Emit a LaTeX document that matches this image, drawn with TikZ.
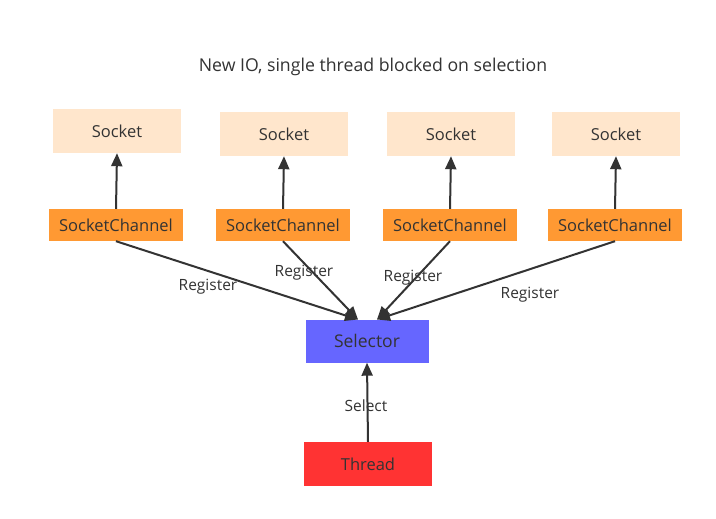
\documentclass[tikz,border=0pt]{standalone}
\usepackage{fontspec}
\setmainfont{Open Sans}
\usetikzlibrary{arrows.meta}
\definecolor{txt}{HTML}{333333}
\definecolor{sockfill}{HTML}{FFE6CC}
\definecolor{chanfill}{HTML}{FF9933}
\definecolor{selfill}{HTML}{6666FF}
\definecolor{thrfill}{HTML}{FF3333}
\tikzset{
  box/.style={draw=none, minimum width=128pt, minimum height=44pt, inner sep=0pt, text=txt, font=\fontsize{16.5}{19}\selectfont},
  sockbox/.style={box, fill=sockfill},
  chanbox/.style={box, fill=chanfill, minimum width=134pt, minimum height=32pt},
  selbox/.style={box, fill=selfill, minimum width=123pt, minimum height=43pt, font=\fontsize{17.5}{20}\selectfont},
  thrbox/.style={box, fill=thrfill, minimum width=128pt, minimum height=44pt},
  conn/.style={draw=txt, line width=2pt, -{Triangle[length=13pt,width=11pt]}},
  lbl/.style={text=txt, font=\fontsize{15.5}{18}\selectfont, inner sep=1pt},
}
\begin{document}
\begin{tikzpicture}[x=1pt,y=-1pt]
\useasboundingbox[fill=white] (0,0) rectangle (716,519);
\node[text=txt, font=\fontsize{17.7}{21}\selectfont] (title) at (373,67) {New IO, single thread blocked on selection};
\node[sockbox] (s1) at (117,131) {Socket};
\node[sockbox] (s2) at (284,134) {Socket};
\node[sockbox] (s3) at (451,134) {Socket};
\node[sockbox] (s4) at (616,134) {Socket};
\node[chanbox] (c1) at (116,225) {SocketChannel};
\node[chanbox] (c2) at (283,225) {SocketChannel};
\node[chanbox] (c3) at (450,225) {SocketChannel};
\node[chanbox] (c4) at (615,225) {SocketChannel};
\node[selbox] (sel) at (367,341) {Selector};
\node[thrbox] (thr) at (368,464) {Thread};
\coordinate (t1) at (358,319.5);
\coordinate (t2) at (377,319.5);
\draw[conn] (c1.north) -- (s1.south);
\draw[conn] (c1.south) -- (t1);
\draw[conn] (c2.north) -- (s2.south);
\draw[conn] (c2.south) -- (t1);
\draw[conn] (c3.north) -- (s3.south);
\draw[conn] (c3.south) -- (t2);
\draw[conn] (c4.north) -- (s4.south);
\draw[conn] (c4.south) -- (t2);
\draw[conn] (thr.north) -- (sel.south);
\node[lbl] (r1) at (208,287) {Register};
\node[lbl] (r2) at (304,273) {Register};
\node[lbl] (r3) at (413,278) {Register};
\node[lbl] (r4) at (530,295) {Register};
\node[lbl] (sl) at (366,406) {Select};
\end{tikzpicture}
\end{document}
